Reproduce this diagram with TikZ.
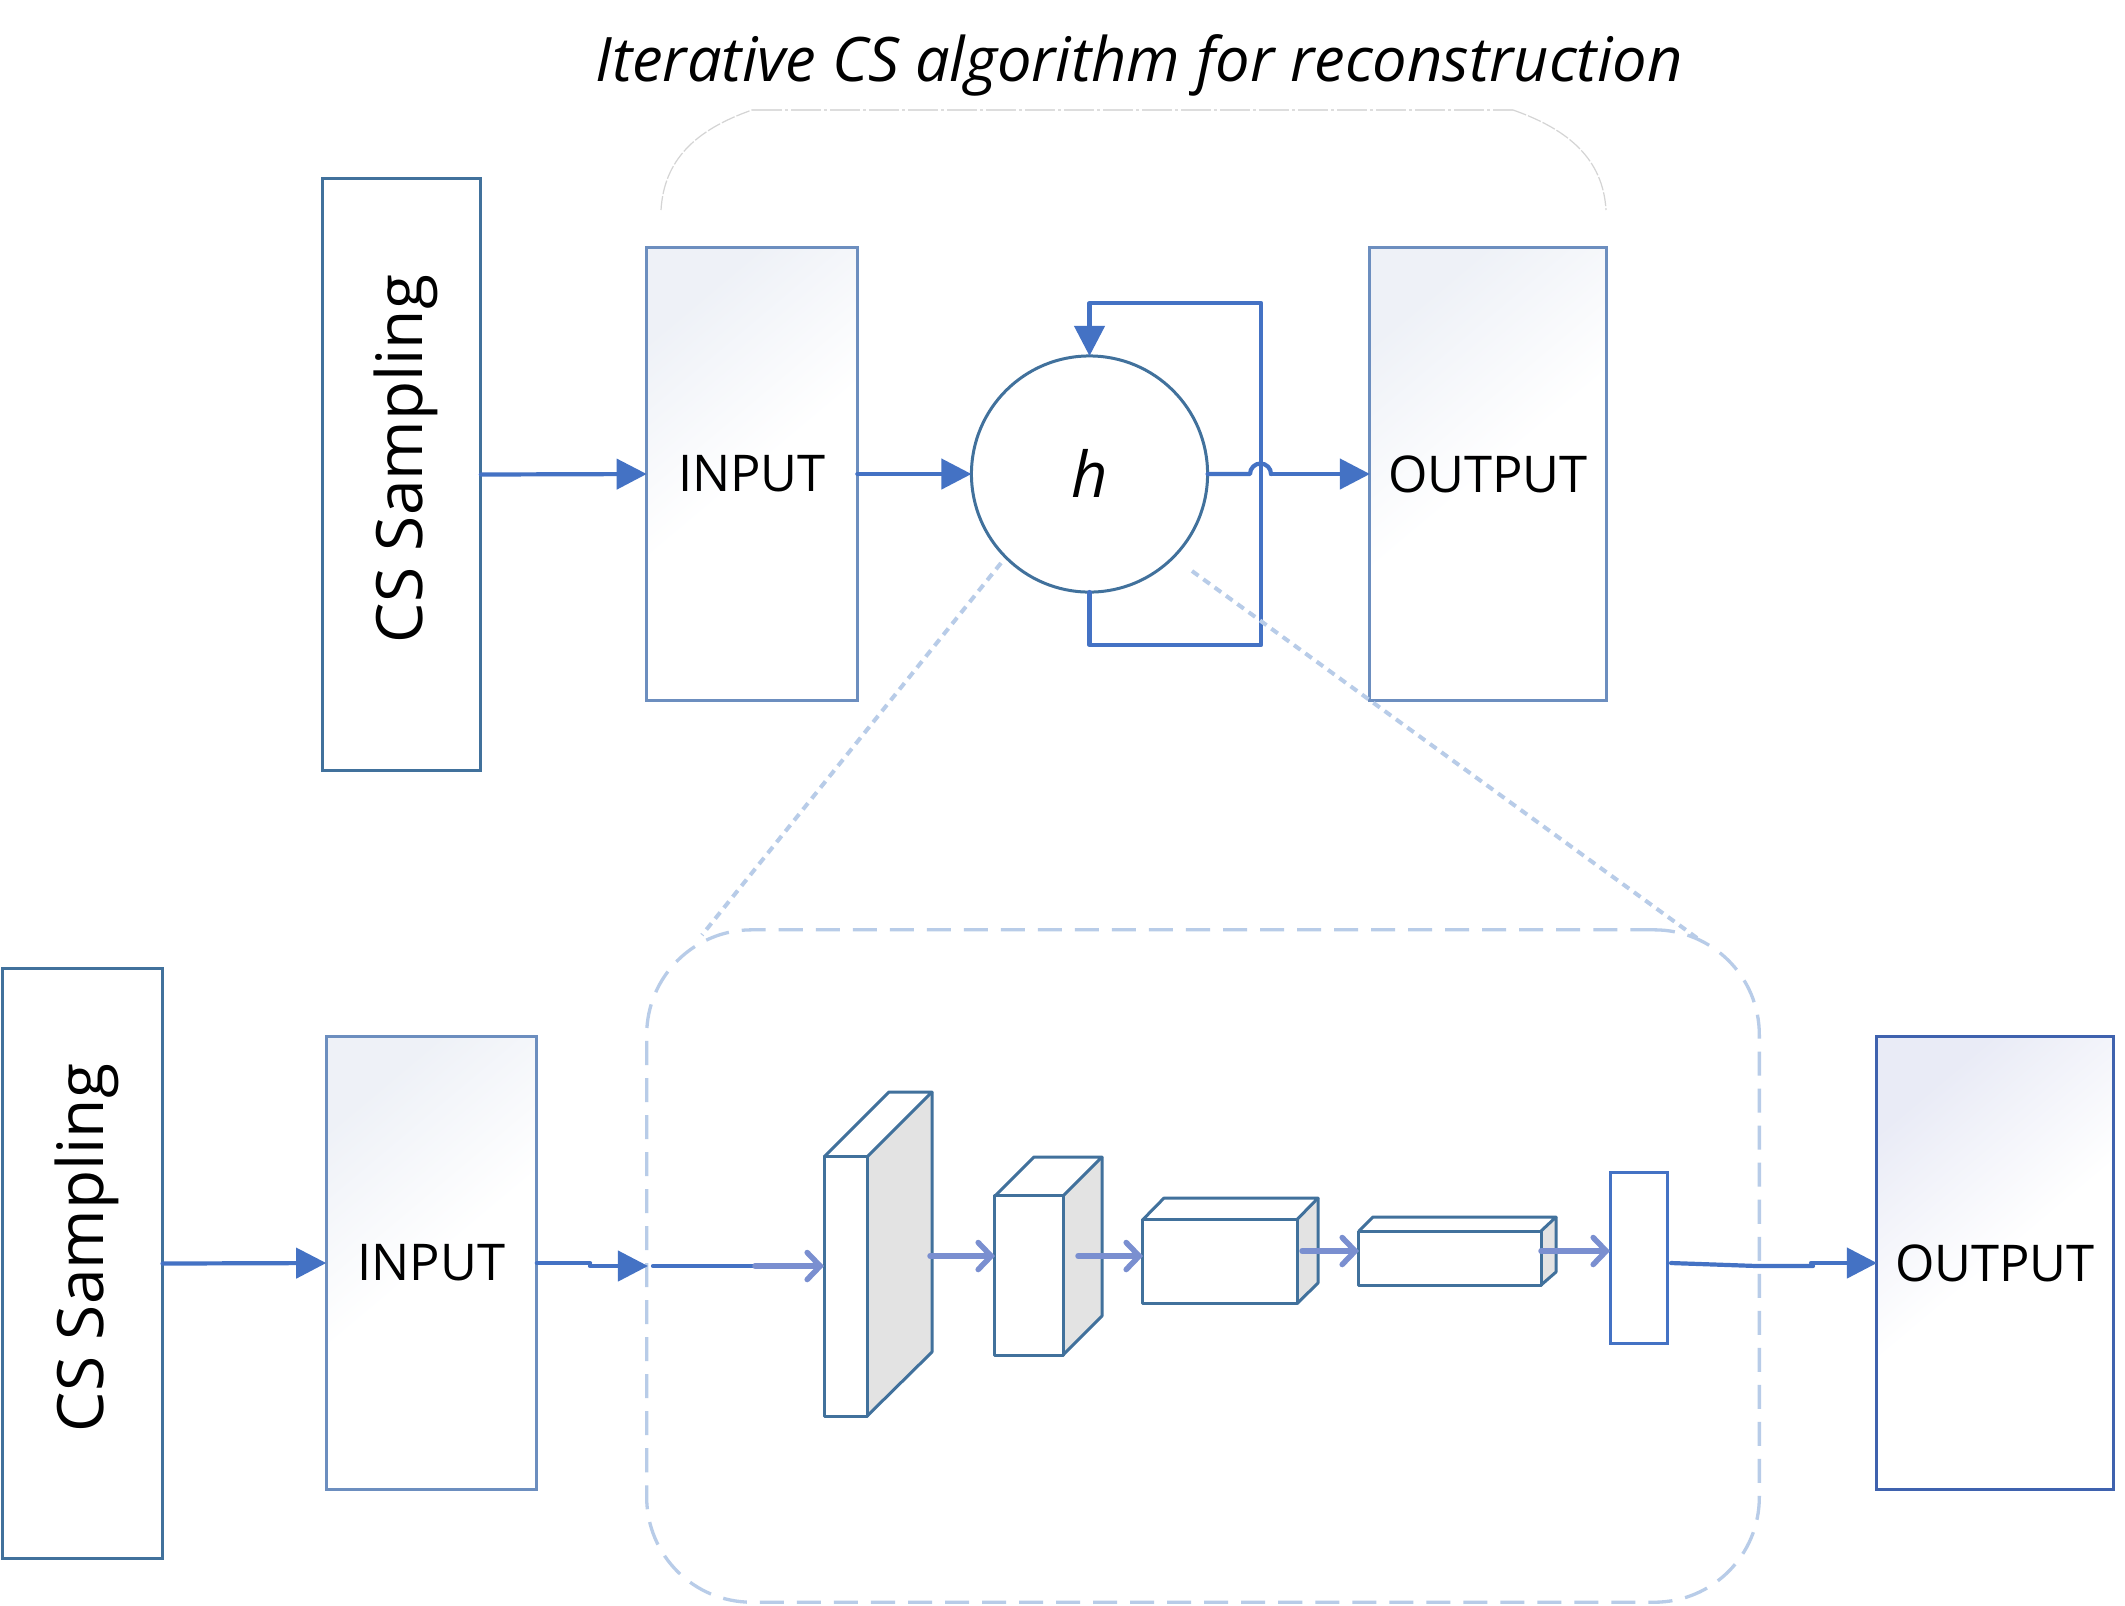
\documentclass[tikz,border=0pt]{standalone}
\usepackage{fontspec}
\setmainfont{Open Sans}
\usetikzlibrary{arrows.meta}
\definecolor{steel}{HTML}{41719C}
\definecolor{flow}{HTML}{4472C4}
\definecolor{soft}{HTML}{6C8EBF}
\definecolor{deep}{HTML}{3F62AE}
\definecolor{lightflow}{HTML}{7A8FD0}
\definecolor{dashblue}{HTML}{B8CCE8}
\definecolor{sidegrey}{HTML}{E3E3E3}
\definecolor{archgrey}{HTML}{D4D4D4}
\definecolor{gradA}{HTML}{EEF1F7}
\definecolor{gradB}{HTML}{E9EBF6}
\pgfdeclareverticalshading{gradone}{100bp}{color(0bp)=(white);color(50bp)=(white);color(75bp)=(gradA);color(100bp)=(gradA)}
\pgfdeclareverticalshading{gradtwo}{100bp}{color(0bp)=(white);color(50bp)=(white);color(75bp)=(gradB);color(100bp)=(gradB)}
\tikzset{
  x=0.01cm,y=-0.01cm,
  every node/.style={inner sep=0pt,outer sep=0pt},
  plainbox/.style={draw=steel,line width=0.03cm,fill=white},
  softbox/.style={draw=soft,line width=0.03cm,shading=gradone,shading angle=40,minimum width=2.105cm,minimum height=4.52cm},
  deepbox/.style={draw=deep,line width=0.03cm,shading=gradtwo,shading angle=40,minimum width=2.36cm,minimum height=4.52cm},
  flowline/.style={draw=flow,line width=0.042cm,line cap=round},
  flowarrow/.style={flowline,-{Triangle[length=0.3cm,width=0.3cm]}},
  lightarrow/.style={draw=lightflow,line width=0.055cm,line cap=round,-{Straight Barb[length=0.13cm,width=0.27cm,line cap=round]}},
  dotline/.style={draw=dashblue,line width=0.04cm,dash pattern=on 0.08cm off 0.06cm},
  cubeedge/.style={draw=steel,line width=0.03cm,line join=round},
  sidefill/.style={fill=sidegrey},
  boxlabel/.style={font=\fontsize{14.4pt}{16pt}\selectfont},
  sidelabel/.style={font=\fontsize{18.2pt}{22pt}\selectfont,rotate=90},
}
\begin{document}
\begin{tikzpicture}
\useasboundingbox (0,0) rectangle (2125,1605);
\fill[white] (0,0) rectangle (2125,1605);

% title
\node (title) at (1139,65) {\fontsize{17.45pt}{20pt}\selectfont\itshape Iterative CS algorithm for reconstruction};

% arch above the top row
\coordinate (archL) at (661,210);
\coordinate (archR) at (1606,210);
\coordinate (archTL) at (752,110);
\coordinate (archTR) at (1513,110);
\draw[archgrey,line width=0.012cm,dash pattern=on 0.14cm off 0.02cm] (archL) .. controls (664,160) and (695,130) .. (archTL);
\draw[archgrey!80,line width=0.025cm,dash pattern=on 0.3cm off 0.03cm on 0.03cm off 0.03cm] (archTL) -- (archTR);
\draw[archgrey,line width=0.012cm,dash pattern=on 0.14cm off 0.02cm] (archTR) .. controls (1570,130) and (1603,160) .. (archR);

% top row
\node[plainbox,minimum width=1.585cm,minimum height=5.91cm] (csA) at (401.5,474.5) {};
\node[sidelabel] (csAlabel) at (406,459) {CS Sampling};
\node[softbox] (inA) at (752,474) {};
\node[boxlabel] (inAlabel) at (752,474) {INPUT};
\node[plainbox,circle,minimum size=2.36cm] (h) at (1089.5,474) {};
\node[font=\fontsize{18pt}{22pt}\selectfont\itshape] (hlabel) at (1090,473) {h};
\node[softbox,minimum width=2.36cm] (outA) at (1488,474) {};
\node[boxlabel] (outAlabel) at (1488,474) {OUTPUT};

\coordinate (loopBR) at (1261,645);
\coordinate (loopTR) at (1261,303);
\coordinate (hopL) at (1250,474);
\coordinate (hopR) at (1271,474);
\draw[flowarrow] (csA.east) -- (inA.west);
\draw[flowarrow] (inA.east) -- (h.west);
\draw[flowline,line join=round] (h.east) -- (hopL) arc[start angle=180,end angle=0,x radius=10.5,y radius=-10.5] -- (hopR);
\draw[flowarrow] (hopR) -- (outA.west);
\draw[flowarrow,line join=round] (h.south) |- (loopBR) -- (loopTR) -| (h.north);

% zoom guide lines
\coordinate (guideL) at (1001,563);
\coordinate (guideR) at (1192,571);
\coordinate (guideLb) at (702,935);
\coordinate (guideRb) at (1697,938);
\draw[dotline] (guideL) -- (guideLb);
\draw[dotline] (guideR) -- (guideRb);

% bottom row
\node[plainbox,minimum width=1.6cm,minimum height=5.89cm] (csB) at (82.5,1263.5) {};
\node[sidelabel] (csBlabel) at (87,1248) {CS Sampling};
\node[softbox] (inB) at (431.5,1263) {};
\node[boxlabel] (inBlabel) at (431.5,1263) {INPUT};
\node[deepbox] (outB) at (1995,1263) {};
\node[boxlabel] (outBlabel) at (1995,1263) {OUTPUT};

% dashed container
\node[draw=dashblue,line width=0.033cm,dash pattern=on 0.24cm off 0.13cm,rounded corners=1.05cm,minimum width=11.12cm,minimum height=6.72cm] (net) at (1203,1266) {};

% cube 1
\fill[sidefill] (867,1157) -- (932,1092) -- (932,1352) -- (867,1416) -- cycle;
\node[cubeedge,minimum width=0.43cm,minimum height=2.59cm] (c1) at (845.5,1286.5) {};
\draw[cubeedge] (c1.north west) -- (889,1092) -- (932,1092) -- (c1.north east);
\draw[cubeedge] (932,1092) -- (932,1352) -- (c1.south east);
% cube 2
\fill[sidefill] (1063,1196) -- (1102,1157) -- (1102,1316) -- (1063,1355) -- cycle;
\node[cubeedge,minimum width=0.68cm,minimum height=1.59cm] (c2) at (1029,1275.5) {};
\draw[cubeedge] (c2.north west) -- (1034,1157) -- (1102,1157) -- (c2.north east);
\draw[cubeedge] (1102,1157) -- (1102,1316) -- (c2.south east);
% cube 3
\fill[sidefill] (1297,1219) -- (1318,1198) -- (1318,1283) -- (1297,1304) -- cycle;
\node[cubeedge,minimum width=1.54cm,minimum height=0.84cm] (c3) at (1220,1261.5) {};
\draw[cubeedge] (c3.north west) -- (1164,1198) -- (1318,1198) -- (c3.north east);
\draw[cubeedge] (1318,1198) -- (1318,1283) -- (c3.south east);
% cube 4
\fill[sidefill] (1541,1231) -- (1556,1217) -- (1556,1272) -- (1541,1285) -- cycle;
\node[cubeedge,minimum width=1.82cm,minimum height=0.54cm] (c4) at (1450,1258) {};
\draw[cubeedge] (c4.north west) -- (1373,1217) -- (1556,1217) -- (c4.north east);
\draw[cubeedge] (1556,1217) -- (1556,1272) -- (c4.south east);
% final layer
\node[draw=flow,line width=0.03cm,minimum width=0.57cm,minimum height=1.7cm] (c5) at (1638.5,1258) {};

% connectors of the bottom row
\coordinate (inStep) at (590,1266);
\coordinate (inStepA) at (590,1263);
\coordinate (netIn) at (648,1266);
\coordinate (c1in) at (824,1266);
\coordinate (c1mid) at (755,1266);
\coordinate (c1start) at (653,1266);
\draw[flowarrow] (csB.east) -- (inB.west);
\draw[flowline] (inB.east) -- (inStepA);
\draw[flowarrow] (inStep) -- (netIn);
\draw[flowline] (c1start) -- (c1mid);
\draw[lightarrow] (c1mid) -- (c1in);
\coordinate (c1out) at (930,1256);
\coordinate (c2in) at (995,1256);
\coordinate (c2out) at (1078,1256);
\coordinate (c3in) at (1143,1256);
\coordinate (c3out) at (1302,1251);
\coordinate (c4in) at (1359,1251);
\coordinate (c4out) at (1541,1251);
\coordinate (c5in) at (1610,1251);
\draw[lightarrow] (c1out) -- (c2in);
\draw[lightarrow] (c2out) -- (c3in);
\draw[lightarrow] (c3out) -- (c4in);
\draw[lightarrow] (c4out) -- (c5in);
\coordinate (c5out) at (1671,1263);
\coordinate (netOut) at (1757,1266);
\coordinate (outStep) at (1813,1266);
\coordinate (outStepA) at (1811,1263);
\draw[flowline] (c5out) -- (netOut) -- (outStep);
\draw[flowarrow] (outStepA) -- (outB.west);
\end{tikzpicture}
\end{document}
